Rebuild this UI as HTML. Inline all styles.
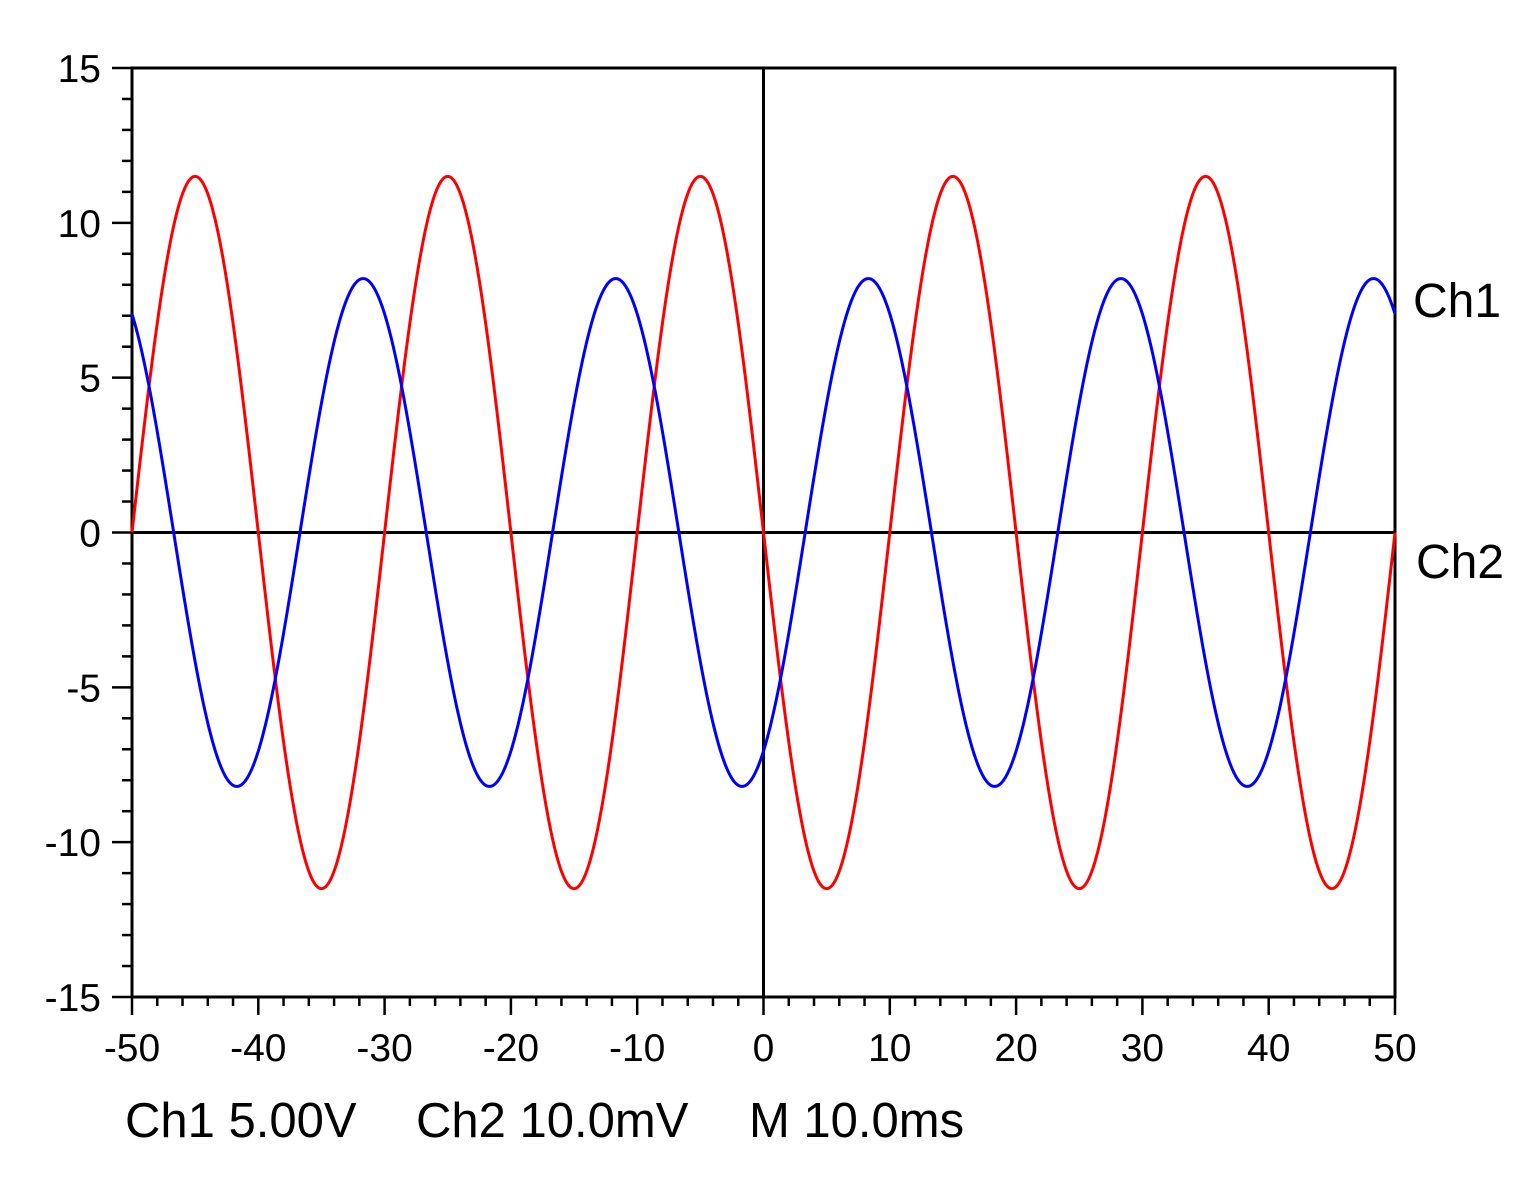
<!DOCTYPE html><html><head><style>body{margin:0;background:#fff}svg{display:block}text{font-family:"Liberation Sans",Arial,sans-serif}</style></head><body>
<svg id="s" width="1540" height="1181" xmlns="http://www.w3.org/2000/svg"></svg>
<script>
const s=document.getElementById('s');
const X0=132,X1=1395,Y0=68,Y1=997;
const px=x=>X0+(x+50)/100*(X1-X0), py=y=>Y1-(y+15)/30*(Y1-Y0);
let h='';
for(let v=-15;v<=15;v++){const y=py(v),maj=v%5==0;h+=`<line x1="${X0-(maj?20:10)}" y1="${y}" x2="${X0}" y2="${y}" stroke="#000" stroke-width="2.5"/>`;
if(maj)h+=`<text x="${X0-31}" y="${y+14}" font-size="39" text-anchor="end">${v}</text>`;}
for(let v=-50;v<=50;v+=2){const x=px(v),maj=v%10==0;h+=`<line x1="${x}" y1="${Y1}" x2="${x}" y2="${Y1+(maj?18:9)}" stroke="#000" stroke-width="2.5"/>`;
if(maj)h+=`<text x="${x}" y="${Y1+64}" font-size="39" text-anchor="middle">${v}</text>`;}
h+=`<rect x="${X0}" y="${Y0}" width="${X1-X0}" height="${Y1-Y0}" fill="none" stroke="#000" stroke-width="3"/>`;
h+=`<line x1="${X0}" y1="${py(0)}" x2="${X1}" y2="${py(0)}" stroke="#000" stroke-width="3"/>`;
h+=`<line x1="${px(0)}" y1="${Y0}" x2="${px(0)}" y2="${Y1}" stroke="#000" stroke-width="3"/>`;
let r='',b='';
for(let i=0;i<=2000;i++){const x=-50+i*0.05;
r+=(i?'L':'M')+px(x).toFixed(2)+','+py(-11.5*Math.sin(2*Math.PI*x/20)).toFixed(2);
b+=(i?'L':'M')+px(x).toFixed(2)+','+py(8.2*Math.cos(2*Math.PI*(x-8.3)/20)).toFixed(2);}
h+=`<path d="${r}" fill="none" stroke="#f00" stroke-width="3"/><path d="${b}" fill="none" stroke="#00f" stroke-width="3"/>`;
h+=`<text x="1413" y="317" font-size="48">Ch1</text><text x="1416" y="578" font-size="48">Ch2</text>`;
h+=`<text x="125" y="1137" font-size="49">Ch1 5.00V</text><text x="416" y="1137" font-size="49">Ch2 10.0mV</text><text x="749" y="1137" font-size="49">M 10.0ms</text>`;
s.innerHTML=h;
</script></body></html>
